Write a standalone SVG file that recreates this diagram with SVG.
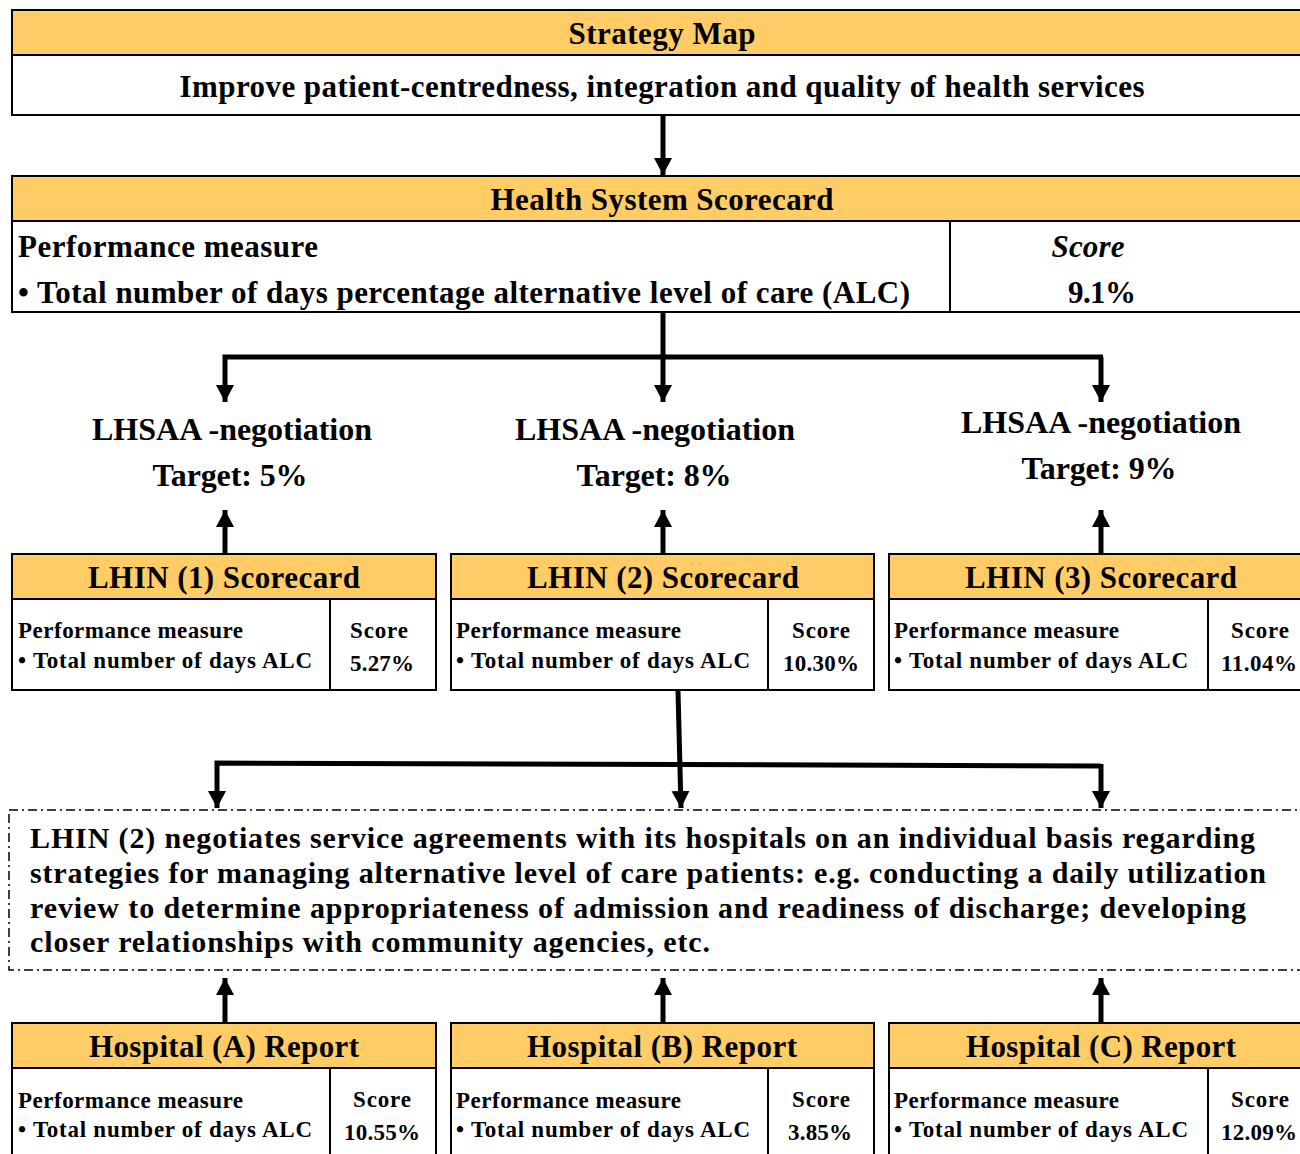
<svg xmlns="http://www.w3.org/2000/svg" width="1300" height="1154" viewBox="0 0 1300 1154">
<style>
text{font-family:"Liberation Serif","Times New Roman",serif;font-weight:bold;fill:#000}
.hdr{fill:#FFCC66;stroke:#000;stroke-width:2}
.body{fill:#fff;stroke:#000;stroke-width:2}
.div{stroke:#000;stroke-width:2}
.conn{fill:none;stroke:#000;stroke-width:5}
.t32{font-size:32px}
.t31{font-size:31px}
.t30{font-size:30px}
.t23{font-size:23px}
.c{text-anchor:middle}
</style>
<defs>
<marker id="ah" markerUnits="userSpaceOnUse" markerWidth="20" markerHeight="20" viewBox="0 0 20 20" refX="17" refY="10" orient="auto">
<path d="M0,1 L17,10 L0,19 Z" fill="#000"/>
</marker>
</defs>
<rect width="1300" height="1154" fill="#fff"/>

<g id="strategy-map">
<rect class="body" x="12" y="55" width="1292" height="60"/>
<rect class="hdr" x="12" y="10" width="1292" height="45"/>
<text class="t31 c" x="662" y="44" textLength="187" lengthAdjust="spacing">Strategy Map</text>
<text class="t31 c" x="662" y="97" textLength="965" lengthAdjust="spacing">Improve patient-centredness, integration and quality of health services</text>
</g>

<g id="health-system-scorecard">
<rect class="body" x="12" y="221" width="1292" height="91"/>
<rect class="hdr" x="12" y="176" width="1292" height="45"/>
<line class="div" x1="950" y1="221" x2="950" y2="312"/>
<text class="t31 c" x="662" y="210" textLength="343" lengthAdjust="spacing">Health System Scorecard</text>
<text class="t31" x="18" y="257" textLength="300" lengthAdjust="spacing">Performance measure</text>
<text class="t31" x="18" y="303" textLength="892" lengthAdjust="spacing">• Total number of days percentage alternative level of care (ALC)</text>
<text class="t31 c" x="1088" y="257" font-style="italic" textLength="73" lengthAdjust="spacing">Score</text>
<text class="t31 c" x="1102" y="303" textLength="68" lengthAdjust="spacing">9.1%</text>
</g>

<g id="target-1">
<text class="t32 c" x="232" y="440" textLength="280" lengthAdjust="spacing">LHSAA -negotiation</text>
<text class="t32 c" x="230" y="486" textLength="155" lengthAdjust="spacing">Target: 5%</text>
</g>
<g id="target-2">
<text class="t32 c" x="655" y="440" textLength="280" lengthAdjust="spacing">LHSAA -negotiation</text>
<text class="t32 c" x="654" y="486" textLength="155" lengthAdjust="spacing">Target: 8%</text>
</g>
<g id="target-3">
<text class="t32 c" x="1101" y="433" textLength="280" lengthAdjust="spacing">LHSAA -negotiation</text>
<text class="t32 c" x="1099" y="479" textLength="155" lengthAdjust="spacing">Target: 9%</text>
</g>

<g id="lhin-1">
<rect class="body" x="12" y="599" width="424" height="91"/>
<rect class="hdr" x="12" y="554" width="424" height="45"/>
<line class="div" x1="330" y1="599" x2="330" y2="690"/>
<text class="t31 c" x="224" y="588" textLength="272" lengthAdjust="spacing">LHIN (1) Scorecard</text>
<text class="t23" x="18" y="638" textLength="225" lengthAdjust="spacing">Performance measure</text>
<text class="t23" x="18" y="668" textLength="294" lengthAdjust="spacing">•  Total number of days ALC</text>
<text class="t23 c" x="379" y="638" textLength="58" lengthAdjust="spacing">Score</text>
<text class="t23 c" x="382" y="671" textLength="64" lengthAdjust="spacing">5.27%</text>
</g>
<g id="lhin-2">
<rect class="body" x="451" y="599" width="423" height="91"/>
<rect class="hdr" x="451" y="554" width="423" height="45"/>
<line class="div" x1="768" y1="599" x2="768" y2="690"/>
<text class="t31 c" x="663" y="588" textLength="272" lengthAdjust="spacing">LHIN (2) Scorecard</text>
<text class="t23" x="456" y="638" textLength="225" lengthAdjust="spacing">Performance measure</text>
<text class="t23" x="456" y="668" textLength="294" lengthAdjust="spacing">•  Total number of days ALC</text>
<text class="t23 c" x="821" y="638" textLength="58" lengthAdjust="spacing">Score</text>
<text class="t23 c" x="821" y="671" textLength="76" lengthAdjust="spacing">10.30%</text>
</g>
<g id="lhin-3">
<rect class="body" x="889" y="599" width="415" height="91"/>
<rect class="hdr" x="889" y="554" width="415" height="45"/>
<line class="div" x1="1208" y1="599" x2="1208" y2="690"/>
<text class="t31 c" x="1101" y="588" textLength="272" lengthAdjust="spacing">LHIN (3) Scorecard</text>
<text class="t23" x="894" y="638" textLength="225" lengthAdjust="spacing">Performance measure</text>
<text class="t23" x="894" y="668" textLength="294" lengthAdjust="spacing">•  Total number of days ALC</text>
<text class="t23 c" x="1260" y="638" textLength="58" lengthAdjust="spacing">Score</text>
<text class="t23 c" x="1259" y="671" textLength="76" lengthAdjust="spacing">11.04%</text>
</g>

<g id="lhin2-negotiation">
<rect x="9" y="810" width="1300" height="160" fill="none" stroke="#000" stroke-width="1.5" stroke-dasharray="9 4 2 4"/>
<text class="t30" x="30" y="848" textLength="1225" lengthAdjust="spacing">LHIN (2) negotiates service agreements with its hospitals on an individual basis regarding</text>
<text class="t30" x="30" y="883" textLength="1236" lengthAdjust="spacing">strategies for managing alternative level of care patients: e.g. conducting a daily utilization</text>
<text class="t30" x="30" y="918" textLength="1216" lengthAdjust="spacing">review to determine appropriateness of admission and readiness of discharge; developing</text>
<text class="t30" x="30" y="952" textLength="680" lengthAdjust="spacing">closer relationships with community agencies, etc.</text>
</g>

<g id="hospital-a">
<rect class="body" x="12" y="1068" width="424" height="96"/>
<rect class="hdr" x="12" y="1023" width="424" height="45"/>
<line class="div" x1="330" y1="1068" x2="330" y2="1160"/>
<text class="t31 c" x="224" y="1057" textLength="270" lengthAdjust="spacing">Hospital (A) Report</text>
<text class="t23" x="18" y="1108" textLength="225" lengthAdjust="spacing">Performance measure</text>
<text class="t23" x="18" y="1137" textLength="294" lengthAdjust="spacing">•  Total number of days ALC</text>
<text class="t23 c" x="382" y="1107" textLength="58" lengthAdjust="spacing">Score</text>
<text class="t23 c" x="382" y="1140" textLength="76" lengthAdjust="spacing">10.55%</text>
</g>
<g id="hospital-b">
<rect class="body" x="451" y="1068" width="423" height="96"/>
<rect class="hdr" x="451" y="1023" width="423" height="45"/>
<line class="div" x1="768" y1="1068" x2="768" y2="1160"/>
<text class="t31 c" x="662" y="1057" textLength="270" lengthAdjust="spacing">Hospital (B) Report</text>
<text class="t23" x="456" y="1108" textLength="225" lengthAdjust="spacing">Performance measure</text>
<text class="t23" x="456" y="1137" textLength="294" lengthAdjust="spacing">•  Total number of days ALC</text>
<text class="t23 c" x="821" y="1107" textLength="58" lengthAdjust="spacing">Score</text>
<text class="t23 c" x="820" y="1140" textLength="64" lengthAdjust="spacing">3.85%</text>
</g>
<g id="hospital-c">
<rect class="body" x="889" y="1068" width="415" height="96"/>
<rect class="hdr" x="889" y="1023" width="415" height="45"/>
<line class="div" x1="1208" y1="1068" x2="1208" y2="1160"/>
<text class="t31 c" x="1101" y="1057" textLength="270" lengthAdjust="spacing">Hospital (C) Report</text>
<text class="t23" x="894" y="1108" textLength="225" lengthAdjust="spacing">Performance measure</text>
<text class="t23" x="894" y="1137" textLength="294" lengthAdjust="spacing">•  Total number of days ALC</text>
<text class="t23 c" x="1260" y="1107" textLength="58" lengthAdjust="spacing">Score</text>
<text class="t23 c" x="1259" y="1140" textLength="76" lengthAdjust="spacing">12.09%</text>
</g>

<g id="connectors">
<path class="conn" d="M663,116 L663,175" marker-end="url(#ah)"/>
<path class="conn" d="M663,313 L663,402" marker-end="url(#ah)"/>
<path class="conn" d="M1103,357 L225,357 L225,402" marker-end="url(#ah)"/>
<path class="conn" d="M1101,357 L1101,402" marker-end="url(#ah)"/>
<path class="conn" d="M225,553 L225,510" marker-end="url(#ah)"/>
<path class="conn" d="M663,553 L663,510" marker-end="url(#ah)"/>
<path class="conn" d="M1101,553 L1101,510" marker-end="url(#ah)"/>
<path class="conn" d="M678,691 L681,808" marker-end="url(#ah)"/>
<path class="conn" d="M1101,766 L217,763 L217,808" marker-end="url(#ah)"/>
<path class="conn" d="M1101,764 L1101,808" marker-end="url(#ah)"/>
<path class="conn" d="M225,1022 L225,978" marker-end="url(#ah)"/>
<path class="conn" d="M663,1022 L663,978" marker-end="url(#ah)"/>
<path class="conn" d="M1101,1022 L1101,978" marker-end="url(#ah)"/>
</g>
</svg>
